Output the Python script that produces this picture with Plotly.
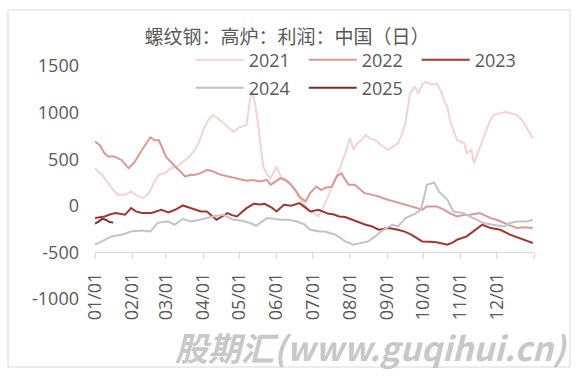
import datetime
import plotly.graph_objects as go

# ---------------- data ----------------
title_text = "螺纹钢：高炉：利润：中国（日）"

month_ticks = ["01/01", "02/01", "03/01", "04/01", "05/01", "06/01",
               "07/01", "08/01", "09/01", "10/01", "11/01", "12/01"]

y_ticks = [-1000, -500, 0, 500, 1000, 1500]
y_tick_text = ["-1000", "-500", "0", "500", "1000", "1500"]

dates_2021 = ["01/01", "01/07", "01/12", "01/16", "01/20", "01/26", "01/31", "02/05", "02/10", "02/15",
              "02/19", "02/23", "02/28", "03/05", "03/10", "03/14", "03/20", "03/25", "03/29", "04/01",
              "04/05", "04/09", "04/13", "04/18", "04/22", "04/26", "05/01", "05/07", "05/10", "05/12",
              "05/14", "05/17", "05/19", "05/21", "05/24", "05/27", "06/01", "06/04", "06/07", "06/11",
              "06/15", "06/18", "06/21", "06/25", "06/29", "07/03", "07/06", "07/10", "07/14", "07/17",
              "07/20", "07/23", "07/28", "08/01", "08/04", "08/07", "08/10", "08/14", "08/18", "08/22",
              "08/27", "09/02", "09/06", "09/10", "09/13", "09/16", "09/20", "09/24", "09/27", "09/30",
              "10/03", "10/08", "10/12", "10/16", "10/18", "10/21", "10/23", "10/26", "10/29", "11/01",
              "11/04", "11/06", "11/10", "11/12", "11/16", "11/19", "11/22", "11/25", "11/28", "12/03",
              "12/09", "12/13", "12/18", "12/23", "12/27", "12/31"]
values_2021 = [400, 330, 243, 170, 118, 118, 153, 110, 82, 136,
               250, 332, 350, 403, 420, 457, 520, 599, 700, 813,
               920, 974, 940, 885, 840, 795, 840, 867, 1150, 1230,
               1100, 849, 600, 420, 340, 296, 420, 330, 278, 240,
               189, 120, 64, 0, -61, -90, -114, -7, 100, 207,
               300, 385, 563, 724, 599, 670, 700, 760, 720, 706,
               650, 599, 640, 670, 760, 885, 1206, 1276, 1206, 1300,
               1330, 1300, 1313, 1220, 1134, 1062, 920, 800, 706, 690,
               670, 563, 599, 457, 599, 700, 813, 900, 974, 990,
               1009, 990, 974, 902, 820, 724]

dates_2022 = ["01/01", "01/05", "01/09", "01/12", "01/17", "01/23", "01/29", "02/03", "02/09", "02/13",
              "02/16", "02/20", "02/23", "02/26", "03/01", "03/05", "03/09", "03/13", "03/17", "03/21",
              "03/25", "03/30", "04/04", "04/09", "04/14", "04/20", "04/26", "05/01", "05/07", "05/12",
              "05/18", "05/24", "05/27", "05/31", "06/04", "06/08", "06/12", "06/16", "06/20", "06/25",
              "06/29", "07/04", "07/08", "07/11", "07/17", "07/21", "07/25", "07/28", "07/31", "08/05",
              "08/09", "08/13", "08/19", "08/25", "08/31", "09/07", "09/14", "09/21", "09/26", "09/30",
              "10/04", "10/12", "10/18", "10/23", "10/29", "11/03", "11/09", "11/17", "11/22", "11/26",
              "12/01", "12/07", "12/12", "12/18", "12/24", "12/31"]
values_2022 = [690, 650, 560, 528, 530, 492, 403, 470, 599, 680,
               735, 700, 706, 620, 528, 470, 420, 360, 314, 330,
               332, 350, 385, 370, 340, 320, 300, 290, 270, 278,
               260, 278, 225, 260, 296, 280, 243, 180, 100, 46,
               139, 207, 170, 192, 207, 314, 350, 280, 225, 225,
               180, 136, 120, 100, 70, 46, 20, -7, -25, -43,
               -7, -7, -40, -78, -114, -100, -96, -78, -110, -132,
               -150, -185, -210, -239, -230, -239]

dates_2023 = ["01/01", "01/09", "01/14", "01/18", "01/26", "01/31", "02/04", "02/09", "02/17", "02/25",
              "03/03", "03/09", "03/15", "03/20", "03/25", "03/30", "04/04", "04/08", "04/12", "04/16",
              "04/21", "04/25", "04/29", "05/03", "05/07", "05/13", "05/18", "05/22", "05/28", "06/01",
              "06/07", "06/13", "06/20", "06/25", "06/29", "07/06", "07/14", "07/18", "07/23", "07/28",
              "08/03", "08/08", "08/14", "08/19", "08/25", "09/02", "09/10", "09/16", "09/21", "09/26",
              "09/30", "10/06", "10/12", "10/21", "10/26", "10/29", "11/06", "11/11", "11/15", "11/19",
              "11/26", "12/04", "12/12", "12/17", "12/23", "12/31"]
values_2023 = [-132, -114, -90, -78, -96, -25, -60, -78, -78, -43,
               -71, -40, 4, -20, -43, -60, -61, -110, -150, -120,
               -78, -100, -114, -70, -25, 21, 15, 21, -20, -61,
               11, 0, 29, -20, -61, -43, -86, -90, -114, -120,
               -150, -175, -203, -220, -257, -239, -257, -280, -310, -350,
               -382, -385, -392, -417, -390, -364, -328, -280, -239, -203,
               -239, -257, -310, -335, -364, -399]

dates_2024 = ["01/01", "01/05", "01/09", "01/15", "01/23", "01/31", "02/09", "02/16", "02/22", "02/27",
              "03/03", "03/08", "03/15", "03/22", "03/29", "04/04", "04/09", "04/18", "04/26", "05/03",
              "05/10", "05/15", "05/20", "05/24", "05/29", "06/04", "06/11", "06/18", "06/24", "06/29",
              "07/07", "07/11", "07/20", "07/24", "07/28", "08/04", "08/11", "08/16", "08/22", "08/27",
              "09/05", "09/10", "09/16", "09/24", "09/29", "10/02", "10/04", "10/10", "10/14", "10/21",
              "10/26", "11/03", "11/12", "11/20", "11/28", "12/07", "12/12", "12/18", "12/26", "12/31"]
values_2024 = [-417, -390, -364, -328, -310, -275, -264, -275, -185, -170,
               -168, -203, -142, -168, -150, -130, -114, -96, -150, -160,
               -185, -214, -170, -132, -140, -150, -150, -168, -200, -257,
               -275, -275, -310, -350, -382, -417, -399, -382, -328, -275,
               -203, -221, -132, -86, -43, 100, 225, 250, 153, 64,
               -61, -78, -132, -185, -203, -221, -185, -168, -168, -150]

dates_2025 = ["01/01", "01/04", "01/07", "01/10", "01/13", "01/16"]
values_2025 = [-190, -170, -140, -150, -175, -178]

series = [
    ("2021", dates_2021, values_2021, "#F3D3D3"),
    ("2022", dates_2022, values_2022, "#DC9896"),
    ("2023", dates_2023, values_2023, "#A5352F"),
    ("2024", dates_2024, values_2024, "#C3C3C3"),
    ("2025", dates_2025, values_2025, "#7A2F2F"),
]


def day_index(mmdd):
    m, d = (int(p) for p in mmdd.split("/"))
    return datetime.date(2021, m, d).timetuple().tm_yday - 1


# ---------------- figure ----------------
TXT = "#595959"
FONT = "Open Sans"

fig = go.Figure()
for i, (name, dts, vals, col) in enumerate(series):
    fig.add_trace(go.Scatter(
        x=[day_index(s) for s in dts], y=vals, mode="lines", name=name,
        line=dict(color=col, width=2),
        legend="legend" if i < 3 else "legend2",
    ))

tick_vals = [day_index(s) for s in month_ticks] + [365]
tick_text = month_ticks + [""]

leg_common = dict(orientation="h", xanchor="left", yanchor="middle",
                  entrywidth=50, entrywidthmode="pixels", itemwidth=48,
                  bgcolor="rgba(0,0,0,0)", font=dict(family=FONT, size=18, color=TXT))

fig.update_layout(
    width=578, height=380,
    margin=dict(l=95, r=44, t=66, b=81, autoexpand=False),
    paper_bgcolor="white", plot_bgcolor="white",
    font=dict(family=FONT, size=18, color=TXT),
    title=dict(text=title_text, x=287 / 578, xanchor="center", y=1 - 37 / 380, yanchor="middle",
               font=dict(family="Noto Sans CJK SC", size=19, color=TXT)),
    xaxis=dict(range=[0, 365], tickmode="array", tickvals=tick_vals, ticktext=tick_text,
               tickangle=-90, showgrid=False, zeroline=False,
               showline=True, linecolor="#D9D9D9", linewidth=1,
               ticks="outside", ticklen=6, tickcolor="#D9D9D9",
               ticklabelstandoff=6,
               anchor="free", position=0.2,
               tickfont=dict(family=FONT, size=18, color=TXT)),
    yaxis=dict(range=[-1000, 1500], tickmode="array", tickvals=y_ticks, ticktext=y_tick_text,
               showgrid=False, zeroline=False, showline=False, ticks="",
               ticklabelstandoff=15,
               tickfont=dict(family=FONT, size=18, color=TXT)),
    legend=dict(x=0.218, y=(299 - 60) / 233, **leg_common),
    legend2=dict(x=0.218, y=(299 - 88) / 233, **leg_common),
    showlegend=True,
)

# outer frame of the chart
fig.add_shape(type="rect", xref="paper", yref="paper",
              x0=(8 - 95) / 439, x1=(570 - 95) / 439, y0=(299 - 367) / 233, y1=(299 - 10) / 233,
              line=dict(color="#D9D9D9", width=1), fillcolor="rgba(0,0,0,0)", layer="above")

# watermark
fig.add_annotation(text="<b><i>股期汇(www.guqihui.cn)</i></b>", xref="paper", yref="paper",
                   x=(371 - 95) / 439, y=(299 - 347) / 233, xanchor="center", yanchor="middle",
                   showarrow=False, font=dict(family="Noto Sans CJK SC", size=33, color="#C8C8C8"))

fig.write_html("out.html", config={"displayModeBar": False},
               post_script="document.body.style.margin='0px';")
